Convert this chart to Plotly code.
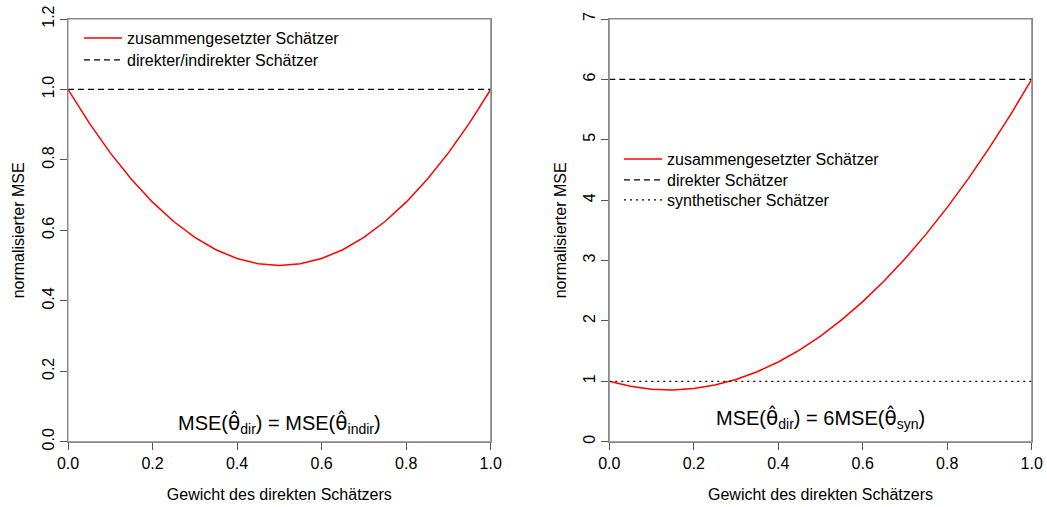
import plotly.graph_objects as go

# Gewicht des direkten Schätzers
weights = [0.0, 0.05, 0.1, 0.15, 0.2, 0.25, 0.3, 0.35, 0.4, 0.45, 0.5,
           0.55, 0.6, 0.65, 0.7, 0.75, 0.8, 0.85, 0.9, 0.95, 1.0]
# left panel: MSE(dir) = MSE(indir)
mse_left = [1.0, 0.905, 0.82, 0.745, 0.68, 0.625, 0.58, 0.545, 0.52, 0.505, 0.5,
            0.505, 0.52, 0.545, 0.58, 0.625, 0.68, 0.745, 0.82, 0.905, 1.0]
# right panel: MSE(dir) = 6 MSE(syn)
mse_right = [1.0, 0.9175, 0.87, 0.8575, 0.88, 0.9375, 1.03, 1.1575, 1.32, 1.5175, 1.75,
             2.0175, 2.32, 2.6575, 3.03, 3.4375, 3.88, 4.3575, 4.87, 5.4175, 6.0]
ref_x = [0.0, 1.0]
left_dirindir = [1.0, 1.0]
right_dir = [6.0, 6.0]
right_syn = [1.0, 1.0]

x_ticks = [0.0, 0.2, 0.4, 0.6, 0.8, 1.0]
y_ticks_left = [0.0, 0.2, 0.4, 0.6, 0.8, 1.0, 1.2]
y_ticks_right = [0, 1, 2, 3, 4, 5, 6, 7]

FONT = "Liberation Sans, Arial, sans-serif"
FRAME = "#8a8a8a"
FS = 16

W, H = 1047, 507
def px_x(p): return p / W
def px_y(p): return 1 - p / H

fig = go.Figure()
fig.add_trace(go.Scatter(x=weights, y=mse_left, mode="lines", name="zusammengesetzter Schätzer",
                         line=dict(color="#ff0000", width=1.5), xaxis="x", yaxis="y", legend="legend"))
fig.add_trace(go.Scatter(x=ref_x, y=left_dirindir, mode="lines", name="direkter/indirekter Schätzer",
                         line=dict(color="black", width=1.3, dash="6px,4px"), xaxis="x", yaxis="y", legend="legend2"))
fig.add_trace(go.Scatter(x=weights, y=mse_right, mode="lines", name="zusammengesetzter Schätzer",
                         line=dict(color="#ff0000", width=1.5), xaxis="x2", yaxis="y2", legend="legend3"))
fig.add_trace(go.Scatter(x=ref_x, y=right_dir, mode="lines", name="direkter Schätzer",
                         line=dict(color="black", width=1.3, dash="6px,4px"), xaxis="x2", yaxis="y2", legend="legend4"))
fig.add_trace(go.Scatter(x=ref_x, y=right_syn, mode="lines", name="synthetischer Schätzer",
                         line=dict(color="black", width=1.3, dash="2px,4px"), xaxis="x2", yaxis="y2", legend="legend5"))

axis_common = dict(showline=True, linecolor=FRAME, linewidth=1, mirror=True, ticks="outside",
                   ticklen=7, tickcolor="#555", tickwidth=1, showgrid=False, zeroline=False,
                   automargin=False, tickfont=dict(family=FONT, size=FS, color="black"))

xdom1 = [px_x(68), px_x(490.7)]
xdom2 = [px_x(609.3), px_x(1031.7)]
ydom = [px_y(441.7), px_y(19)]

theta = '<span style="font-family:DejaVu Sans">θ̂</span>'

def leg(x_page, row_page):
    return dict(x=px_x(x_page), y=px_y(row_page - 17), xanchor="left", yanchor="top",
                bgcolor="rgba(0,0,0,0)", font=dict(size=FS, family=FONT), itemwidth=38)

def frame(xd):
    return dict(type="rect", xref="paper", yref="paper", x0=xd[0], x1=xd[1], y0=ydom[0], y1=ydom[1],
                line=dict(color=FRAME, width=1), fillcolor="rgba(0,0,0,0)", layer="above")

fig.update_layout(
    width=W, height=H,
    margin=dict(l=0, r=0, t=0, b=0),
    paper_bgcolor="white", plot_bgcolor="white",
    font=dict(family=FONT, color="black"),
    xaxis=dict(domain=xdom1, range=[0, 1], tickvals=x_ticks, tickformat=".1f", anchor="y",
               title=dict(text="Gewicht des direkten Schätzers", font=dict(size=FS), standoff=17),
               **axis_common),
    yaxis=dict(domain=ydom, range=[0, 1.2], tickvals=y_ticks_left, tickformat=".1f", anchor="x",
               tickangle=-90,
               title=dict(text="normalisierter MSE", font=dict(size=FS), standoff=10),
               **axis_common),
    xaxis2=dict(domain=xdom2, range=[0, 1], tickvals=x_ticks, tickformat=".1f", anchor="y2",
                title=dict(text="Gewicht des direkten Schätzers", font=dict(size=FS), standoff=17),
                **axis_common),
    yaxis2=dict(domain=ydom, range=[0, 7], tickvals=y_ticks_right, anchor="x2",
                tickangle=-90,
                title=dict(text="normalisierter MSE", font=dict(size=FS), standoff=10),
                **axis_common),
    legend=leg(79, 38),
    legend2=leg(79, 60),
    legend3=leg(619, 159),
    legend4=leg(619, 180),
    legend5=leg(619, 200),
    showlegend=True,
    shapes=[frame(xdom1), frame(xdom2)],
    annotations=[
        dict(xref="x", yref="y", x=0.5, y=0.053, showarrow=False,
             text=f"MSE({theta}<sub>dir</sub>) = MSE({theta}<sub>indir</sub>)",
             font=dict(size=20, family=FONT, color="black")),
        dict(xref="x2", yref="y2", x=0.5, y=0.376, showarrow=False,
             text=f"MSE({theta}<sub>dir</sub>) = 6MSE({theta}<sub>syn</sub>)",
             font=dict(size=20, family=FONT, color="black")),
    ],
)

fig.write_html("out.html", config={"displayModeBar": False},
               post_script="document.body.style.margin='0px';")
